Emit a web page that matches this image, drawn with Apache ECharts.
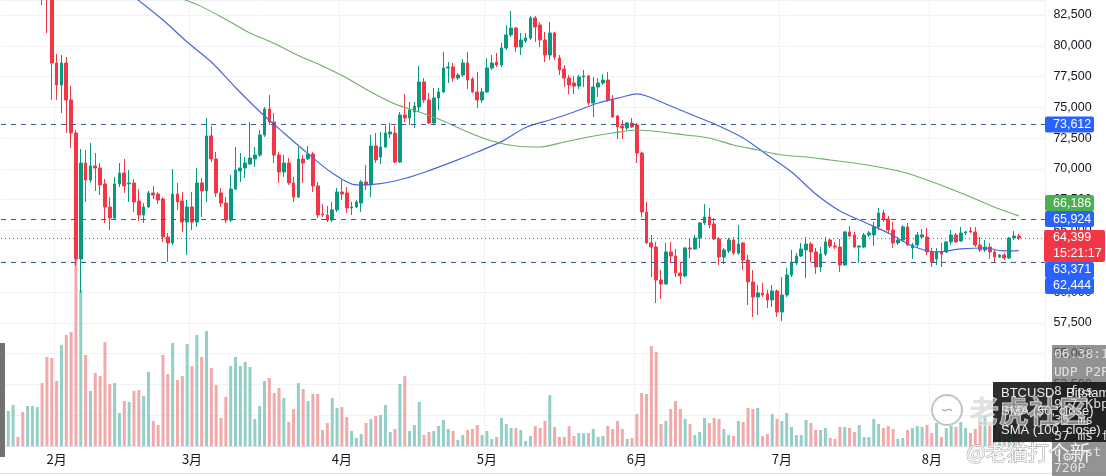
<!DOCTYPE html>
<html><head><meta charset="utf-8">
<script src="https://cdn.jsdelivr.net/npm/echarts@6/dist/echarts.min.js"></script>
<style>html,body{margin:0;padding:0;background:#fff;}#c{width:1106px;height:476px;}</style>
</head><body><div id="c"></div>
<script>
// ---------- data ----------
const startDate = Date.UTC(2025, 0, 21);   // first category (Jan 21)
const totalDays = 216;                     // categories shown on the axis
const dayOffset = 11;                      // index of Feb 1

const openP = [87000,87800,88600,89300,88700,87900,88500,89200,89600,86500,84300,
78600,76820,78600,75600,72920,62690,70480,69100,70240,70080,
68780,66910,66020,68780,69670,68780,68860,67400,66260,66910,
68050,67960,67560,64470,63990,67960,67400,65690,66910,65690,
68860,68210,72680,70810,68050,67230,65850,68370,69830,70080,
70400,70810,71130,72760,74870,73810,71130,69750,70480,68860,
67720,70810,70810,71210,68620,66340,66260,65850,66670,68130,
68050,66830,66910,67230,68940,68700,71860,70970,71780,72840,
72920,70560,74380,74140,74620,75030,77060,75600,73730,75760,
76250,78200,78280,77380,77630,78600,77300,76250,75600,76250,
78200,78680,78440,79820,80880,81440,79900,80390,80630,82260,
81690,80470,79250,81040,79010,78110,77380,76980,76730,77470,
77550,75350,76650,76980,77220,75600,74300,73490,73320,73730,
73570,71290,66500,63990,63660,60980,60660,63260,62930,61550,
61310,63580,63500,64390,65610,66100,65530,64310,62850,63340,
64230,63170,63990,62600,60820,59600,59930,59850,59360,60090,
58380,59760,61390,62360,62930,63420,63900,63260,62040,63090,
64230,63740,63660,62200,64880,64640,63660,63660,64640,64640,
65290,66420,65940,65040,63990,64230,65290,63580,63820,64470,
64470,63260,62690,63260,63260,64070,64640,64150,64800,64960,
64880,63820,63420,63660,63260,62850,63010,62770,64390,64550];
const closeP = [87800,88600,89300,88700,87900,88500,89200,89600,86500,84300,78600,
76820,78600,75600,72920,62690,70480,69100,70240,70080,68700,
66910,66020,68780,69670,68620,68860,67320,66260,66910,68050,
67880,67480,64470,63990,67960,67320,65690,66910,65690,68860,
68210,72680,70810,68050,67230,65850,68370,69910,70080,70480,
70890,71130,72760,74870,73810,71130,69750,70480,68860,67720,
70810,70480,71210,68620,66260,66260,65850,66670,68130,67960,
66830,66910,67320,68940,68700,71860,70730,71780,72920,73000,
70560,74380,74140,74790,75110,77060,75600,73730,75760,76250,
78200,78280,77380,77630,78600,77220,76250,75600,76250,78200,
78600,78440,79820,80880,81440,79900,80470,80630,82260,81530,
80470,79250,81040,79090,78030,77380,76820,76730,77470,77550,
75350,76650,76980,77220,75600,74220,73410,73320,73730,73410,
71290,66500,63990,63660,60980,60660,63260,62930,61550,61310,
63580,63500,64390,65610,66100,65450,64310,62850,63420,64230,
63170,63900,62600,60820,59600,59930,59760,59360,60090,58380,
59760,61390,62440,62930,63500,63900,63260,62040,63090,64070,
63740,63660,62200,64880,64550,63660,63740,64640,64800,65290,
66420,65940,65040,63990,64230,65290,63820,63820,64640,64640,
63260,62440,63260,63090,64070,64640,64070,64800,64880,64880,
63820,63420,63660,63260,62850,63010,62770,64390,64550,64399];
const lowP = [86500,87300,88000,88200,87300,87500,88000,88700,83310,81040,75600,
75600,74540,72920,71700,62120,59930,67320,68860,68210,67880,
65610,65040,65850,68530,68050,67320,66500,65770,65610,66830,
67560,67150,64070,62440,63820,66670,64880,63010,65040,65290,
66100,67320,70560,67720,66910,65610,65690,68290,68940,69260,
70320,70160,70970,72590,73570,70480,68860,69350,68700,67320,
67640,68860,70730,68130,66020,66100,65690,65690,66500,67480,
66420,66260,66830,66500,68290,67720,70480,70400,71700,72510,
70480,70480,73810,73570,73320,74620,75350,73650,73650,74790,
76170,76980,77060,77220,77470,76490,76170,74950,75350,76170,
78030,78280,78280,79660,80710,79500,79250,80230,80470,80310,
79900,78680,78850,78850,77630,76650,76080,76080,76490,76650,
75190,74220,75840,76820,75440,74140,72430,72430,73160,73320,
70480,66100,63900,61230,59110,59440,60580,62360,61220,60660,
61220,62770,63420,63580,65450,65200,64230,62200,62280,63170,
63010,63010,61790,58950,57980,58140,59600,58710,58790,57980,
57650,59600,61220,62200,62850,61140,62440,61470,61630,62930,
63580,63500,61630,62120,64470,63580,62360,63580,64470,63740,
65040,65690,64720,63580,63820,64070,63740,62690,63580,64390,
63010,62040,62200,62040,63170,63820,63990,64070,64640,64800,
63660,63260,63260,62690,62360,62770,62600,62690,64230,64230];
const highP = [88500,89000,90000,89800,89200,89000,89700,90200,89900,87000,84800,
79330,79250,79090,76740,73160,71620,71540,72110,71290,70480,
69180,67720,69350,70480,70810,69910,69180,68370,67230,68210,
68620,68130,67700,64800,69990,68860,68130,67480,68130,70080,
69260,74140,73490,71380,68450,67720,69510,71780,71290,70970,
73810,71780,73160,75030,76000,74540,71380,71130,70890,69350,
71780,71130,71860,71380,68940,67150,66990,67320,68450,69100,
68530,67320,67480,69100,70320,72760,72920,73000,73490,73730,
73490,74620,76080,75440,75440,78360,77380,76170,76570,76570,
79500,78680,78600,77790,78930,79500,77470,77870,76570,79010,
79250,79410,80230,81690,82820,81530,81040,81040,82420,82420,
81930,81120,81930,81120,79250,78440,77630,77550,77630,78030,
77630,77470,77380,77710,77870,76000,74380,73970,73810,74140,
73730,71400,67320,64640,64070,61790,63990,64070,63500,62440,
63660,64390,64640,65690,67150,66830,66020,64470,63580,64390,
64470,65450,64070,63010,61790,60580,60740,60170,60580,60200,
61220,61960,63420,63170,63990,64470,64070,63580,63660,64470,
64390,64070,64310,64960,65370,64880,63800,64800,64960,65690,
66830,66670,66180,65690,64470,65450,65610,63990,64880,65120,
65200,63580,63580,63990,64150,65040,64800,65290,64960,65290,
65290,64470,64230,63990,63500,63090,63170,64470,64960,64720];
const volume = [3360,1400,1640,360,1360,1600,1600,1560,2520,3560,3520,
2600,4040,4440,4560,8720,6240,3640,2200,2920,2800,
4160,2480,2520,1320,1800,1760,2200,2240,2000,2960,
1000,840,3640,2880,4120,2640,2800,4080,3200,4440,
3560,4600,3120,2440,1120,1960,3200,3560,3200,3360,
3160,1080,1600,2600,2720,2120,2320,1920,960,1480,
2520,2280,1800,2080,2080,640,920,1920,1520,1560,
1160,600,320,480,920,1080,1200,1240,1640,560,
680,2480,2800,600,840,1760,440,560,600,800,
1040,680,600,240,440,640,680,840,440,600,
280,360,1120,880,720,720,640,200,400,800,
720,1000,2040,760,360,360,800,400,520,520,
520,680,360,400,800,680,1000,680,280,320,
1280,2120,2080,4000,3760,880,1000,1480,1800,1480,
1080,880,440,560,1120,920,1120,1080,680,440,
400,1000,960,1520,1480,1520,400,480,1280,1080,
1000,1320,760,440,440,1040,920,640,640,720,
320,280,760,760,720,560,840,360,360,1080,
880,720,800,680,280,320,640,720,800,760,
840,520,920,360,720,800,760,960,720,520,
680,960,1200,840,1040,560,720,1120,880,440];

// SMA readings (day number counted from Feb 1)
const smaFastDays = [15,22,27,32,37,42,47,52,57,62,67,72,77,82,87,92,97,102,107,112,117,120,122,127,132,137,142,147,152,157,162,167,172,177,182,187,192,196,199];
const smaFastVals = [84290,82090,80310,78680,76610,74660,72920,71240,69670,68700,68800,69220,69860,70590,71380,72220,73370,73970,74620,75350,75840,76090,75920,75110,74300,73490,72510,71130,69750,67970,66590,65690,64800,63740,63260,63500,63580,63340,63371];
const smaSlowDays = [22,26,30,35,40,45,50,55,60,65,70,75,80,85,90,95,100,105,110,115,120,125,130,135,140,145,150,155,160,165,170,175,180,185,190,195,199];
const smaSlowVals = [84200,83800,83180,82140,81040,80190,79210,78360,77380,76250,75270,74620,73890,73000,72270,71860,71780,72190,72590,72920,73160,73000,72760,72510,71940,71540,71130,70970,70730,70480,70160,69750,69100,68370,67560,66750,66186];

const hLines = [73612, 65924, 62444];
const countdown = '15:21:17';
const overlayLines = ['06:38:17','UDP P2P','8 fps','9.7 Kbps','35 ms','57 ms frame','0 lost','720P'];
const legendLines = ['BTCUSD · Bitstamp','SMA (50, close)','SMA (100, close)'];

// ---------- build ----------
const categories = [];
for (let i = 0; i < totalDays; i++) {
  categories.push(new Date(startDate + i * 86400000).toISOString().slice(0, 10));
}
const UP = '#089981', DOWN = '#f23645';
const candleData = openP.map((o, i) => [o, closeP[i], lowP[i], highP[i]]);
const volData = volume.map((v, i) => ({ value: v, itemStyle: { color: closeP[i] >= openP[i] ? '#93cfc6' : '#f2a9aa' } }));
function sparse(days, vals) {
  const a = new Array(totalDays).fill(null);
  days.forEach((d, k) => { a[d + dayOffset] = vals[k]; });
  return a;
}
const fastData = sparse(smaFastDays, smaFastVals);
const slowData = sparse(smaSlowDays, smaSlowVals);
const lastClose = closeP[closeP.length - 1];
function fmt(v) { return String(Math.round(v)).replace(/\B(?=(\d{3})+(?!\d))/g, ','); }
const firstOfMonth = (i, v) => v.slice(8, 10) === '01';
const FONT = 'Liberation Sans, Arial, sans-serif';

const chart = echarts.init(document.getElementById('c'), null, { renderer: 'canvas' });
chart.setOption({
  animation: false,
  backgroundColor: '#ffffff',
  grid: { left: 1, right: 60.6, top: 0, bottom: 30, outerBoundsMode: 'none', containLabel: false },
  xAxis: {
    type: 'category', data: categories, boundaryGap: true,
    axisLine: { show: true, lineStyle: { color: '#e0e3eb' } },
    axisTick: { show: false },
    axisLabel: { interval: firstOfMonth, formatter: v => parseInt(v.slice(5, 7), 10) + '月',
      color: '#131722', fontSize: 13, margin: 7, fontFamily: 'Noto Sans CJK SC' },
    splitLine: { show: true, interval: firstOfMonth, lineStyle: { color: '#f0f2f6', width: 1 } }
  },
  yAxis: [{
    type: 'value', position: 'right', min: 47500, max: 83718, interval: 2500, scale: true,
    axisLine: { show: false }, axisTick: { show: false },
    axisLabel: { showMinLabel: false, showMaxLabel: false, margin: 8, color: '#131722', fontSize: 12.5,
      fontFamily: FONT, formatter: v => fmt(v) },
    splitLine: { lineStyle: { color: '#f0f2f6', width: 1 } }
  }, {
    type: 'value', min: 0, max: 17840, show: false, splitLine: { show: false }
  }],
  series: [
    { type: 'bar', yAxisIndex: 1, data: volData, barWidth: '62%', z: 1, silent: true },
    { type: 'candlestick', data: candleData, barWidth: '66%', clip: true, z: 3,
      itemStyle: { color: UP, color0: DOWN, borderColor: UP, borderColor0: DOWN, borderWidth: 1 },
      markLine: { symbol: 'none', silent: true, animation: false, label: { show: false },
        data: hLines.map(v => ({ yAxis: v, lineStyle: { type: [5, 5], color: '#3a5aa6', width: 1 } }))
          .concat([{ yAxis: lastClose, lineStyle: { type: [1, 3], color: '#f23645', width: 1 } }]) } },
    { type: 'line', data: fastData, connectNulls: true, showSymbol: false, symbol: 'none', smooth: 0.3,
      clip: true, z: 4, lineStyle: { color: '#4a66d8', width: 1.2 } },
    { type: 'line', data: slowData, connectNulls: true, showSymbol: false, symbol: 'none', smooth: 0.3,
      clip: true, z: 4, lineStyle: { color: '#6fae66', width: 1.1 } }
  ]
});

// ---------- right-side price tags (stacked like the platform does) ----------
const tags = [
  { v: hLines[0], color: '#2962ff' },
  { v: smaSlowVals[smaSlowVals.length - 1], color: '#4caf50' },
  { v: hLines[1], color: '#2962ff' },
  { v: lastClose, color: '#f23645', sub: countdown, fixed: true },
  { v: smaFastVals[smaFastVals.length - 1], color: '#2962ff' },
  { v: hLines[2], color: '#2962ff' }
];
tags.forEach(t => { t.py = chart.convertToPixel({ yAxisIndex: 0 }, t.v); t.h = t.sub ? 32 : 16; });
tags.sort((a, b) => a.py - b.py);
const fi = tags.findIndex(t => t.fixed);
tags[fi].top = tags[fi].py - 8;
for (let i = fi + 1; i < tags.length; i++) {
  const prevBottom = tags[i - 1].top + tags[i - 1].h;
  tags[i].top = Math.max(tags[i].py - 8, prevBottom);
}
for (let i = fi - 1; i >= 0; i--) {
  const nextTop = tags[i + 1].top;
  tags[i].top = Math.min(tags[i].py - 8, nextTop - tags[i].h);
}
const g = [];
tags.forEach(t => {
  const x = t.sub ? 1044 : 1045, w = t.sub ? 61 : 49;
  g.push({ type: 'rect', shape: { x: x, y: t.top, width: w, height: t.h, r: 2 }, style: { fill: t.color }, z: 100 });
  g.push({ type: 'text', x: 1053, y: t.top + 8, style: { text: fmt(t.v), fill: '#ffffff', font: '12.5px ' + FONT, verticalAlign: 'middle', textVerticalAlign: 'middle' }, z: 101 });
  if (t.sub) g.push({ type: 'text', x: 1053, y: t.top + 24, style: { text: t.sub, fill: '#ffffff', font: '12.5px ' + FONT, verticalAlign: 'middle', textVerticalAlign: 'middle' }, z: 101 });
});

// ---------- overlays ----------
g.push({ type: 'line', shape: { x1: 0, y1: 473.5, x2: 1106, y2: 473.5 }, style: { stroke: '#e0e3eb', lineWidth: 1 }, z: 90 });
g.push({ type: 'rect', shape: { x: 0, y: 343, width: 5, height: 114 }, style: { fill: '#727272' }, z: 110 });
g.push({ type: 'rect', shape: { x: 1052, y: 345, width: 54, height: 131 }, style: { fill: 'rgba(105,105,105,0.72)' }, z: 110 });
g.push({ type: 'rect', shape: { x: 993, y: 382, width: 113, height: 60 }, style: { fill: 'rgba(22,22,22,0.9)' }, z: 111 });
legendLines.forEach((s, k) => {
  g.push({ type: 'text', x: 1001, y: 393 + k * 18.5, style: { text: s, fill: '#eeeeee', font: '13px ' + FONT, verticalAlign: 'middle', textVerticalAlign: 'middle' }, z: 112 });
});
const ovY = [355, 373, 392, 405, 421, 437, 453, 469];
overlayLines.forEach((s, k) => {
  g.push({ type: 'text', x: 1054, y: ovY[k], style: { text: s, fill: 'rgba(235,235,235,0.9)', font: '13px DejaVu Sans Mono, monospace', verticalAlign: 'middle', textVerticalAlign: 'middle' }, z: 113 });
});
g.push({ type: 'text', x: 1062, y: 458, style: { text: '⚙', fill: '#eeeeee', font: '12px DejaVu Sans', verticalAlign: 'middle', textVerticalAlign: 'middle' }, z: 113 });
// watermark
g.push({ type: 'circle', shape: { cx: 947, cy: 410, r: 15 }, style: { fill: 'rgba(255,255,255,0.35)', stroke: 'rgba(185,185,185,0.85)', lineWidth: 2 }, z: 114 });
g.push({ type: 'text', x: 947, y: 411, style: { text: '∽', fill: 'rgba(170,170,170,0.9)', font: '16px DejaVu Sans', align: 'center', textAlign: 'center', verticalAlign: 'middle', textVerticalAlign: 'middle' }, z: 115 });
g.push({ type: 'text', x: 969, y: 411, style: { text: '老虎社区', fill: 'rgba(205,205,205,0.6)', stroke: 'rgba(255,255,255,0.75)', lineWidth: 1, font: 'bold 30px Noto Sans CJK SC', verticalAlign: 'middle', textVerticalAlign: 'middle' }, z: 115 });
g.push({ type: 'text', x: 966, y: 452, style: { text: '@老猫打个新', fill: 'rgba(255,255,255,0.9)', stroke: 'rgba(140,140,140,0.85)', lineWidth: 1, font: '21px Noto Sans CJK SC', verticalAlign: 'middle', textVerticalAlign: 'middle' }, z: 115 });
chart.setOption({ graphic: g });
</script>
</body></html>
